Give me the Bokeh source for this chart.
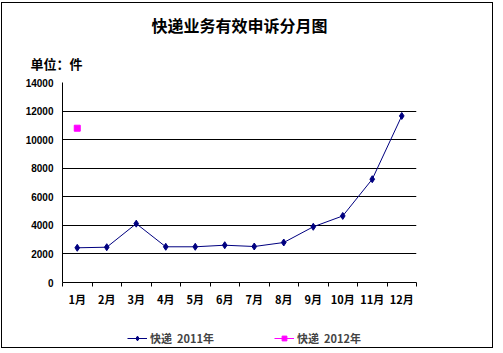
from bokeh.plotting import figure
from bokeh.layouts import column
from bokeh.models import (FixedTicker, Title, Legend, LegendItem, ColumnDataSource, Range1d)
from bokeh.embed import file_html
from bokeh.resources import INLINE

months = ["1月", "2月", "3月", "4月", "5月", "6月", "7月", "8月", "9月", "10月", "11月", "12月"]
values_2011 = [2430, 2470, 4120, 2500, 2500, 2610, 2520, 2800, 3900, 4660, 7230, 11660]
months_2012 = ["1月"]
values_2012 = [10800]
y_ticks = [0, 2000, 4000, 6000, 8000, 10000, 12000, 14000]
title_text = "快递业务有效申诉分月图"
unit_text = "单位：件"
series_names = ["快递  2011年", "快递  2012年"]
colors = ["#000080", "#FF00FF"]

pos = {m: i + 1 for i, m in enumerate(months)}
src11 = ColumnDataSource(dict(x=[pos[m] for m in months], y=values_2011))
src12 = ColumnDataSource(dict(x=[pos[m] for m in months_2012], y=values_2012))

cjk = "Noto Sans CJK SC"
num = "Liberation Sans"

p = figure(width=490, height=315, output_backend="svg", toolbar_location=None,
           x_range=Range1d(0.5, len(months) + 0.5), y_range=Range1d(y_ticks[0], y_ticks[-1]),
           min_border_left=60, min_border_right=76, min_border_top=79, min_border_bottom=36)
p.outline_line_color = None
p.background_fill_color = "white"
p.border_fill_color = "white"

# main title
p.title.text = title_text
p.title.align = "center"
p.title.text_font = cjk
p.title.text_font_style = "bold"
p.title.text_font_size = "16px"
p.title.text_color = "black"
p.title.standoff = 12

# unit label
p.add_layout(Title(text=unit_text, align="left", offset=-32, text_font=cjk,
                   text_font_style="bold", text_font_size="13px", text_color="black",
                   standoff=19), "above")

# y axis
p.yaxis.ticker = FixedTicker(ticks=y_ticks)
p.yaxis.axis_line_color = "black"
p.yaxis.major_tick_out = 0
p.yaxis.major_tick_in = 0
p.yaxis.minor_tick_line_color = None
p.yaxis.major_label_text_font = num
p.yaxis.major_label_text_font_style = "bold"
p.yaxis.major_label_text_font_size = "10px"
p.yaxis.major_label_text_color = "black"
p.yaxis.major_label_standoff = 9

# x axis
p.xaxis.ticker = FixedTicker(ticks=list(range(1, len(months) + 1)),
                             minor_ticks=[i + 0.5 for i in range(len(months) + 1)])
p.xaxis.major_label_overrides = {i + 1: m for i, m in enumerate(months)}
p.xaxis.axis_line_color = "black"
p.xaxis.major_tick_out = 0
p.xaxis.major_tick_in = 0
p.xaxis.minor_tick_out = 4
p.xaxis.minor_tick_in = 0
p.xaxis.minor_tick_line_color = "black"
p.xaxis.major_label_text_font = cjk
p.xaxis.major_label_text_font_style = "bold"
p.xaxis.major_label_text_font_size = "11px"
p.xaxis.major_label_text_color = "black"
p.xaxis.major_label_standoff = 4

p.xgrid.grid_line_color = None
p.ygrid.grid_line_color = "black"
p.ygrid.grid_line_width = 1

p.line("x", "y", source=src11, line_color=colors[0], line_width=1)
p.scatter("x", "y", source=src11, marker="diamond", size=7,
          fill_color=colors[0], line_color=colors[0])
p.scatter("x", "y", source=src12, marker="square", size=6,
          fill_color=colors[1], line_color=colors[1])

# legend strip (series drawn off-view; only the legend shows)
lp = figure(width=490, height=29, output_backend="svg", toolbar_location=None,
            x_axis_location=None, y_axis_location=None,
            x_range=Range1d(100, 101), y_range=Range1d(100, 101), min_border=0)
lp.grid.visible = False
lp.outline_line_color = None
lp.background_fill_color = "white"
lp.border_fill_color = "white"
l1 = lp.line("x", "y", source=src11, line_color=colors[0], line_width=1)
m1 = lp.scatter("x", "y", source=src11, marker="diamond", size=7,
                fill_color=colors[0], line_color=colors[0])
l2 = lp.line("x", "y", source=src12, line_color=colors[1], line_width=1)
m2 = lp.scatter("x", "y", source=src12, marker="square", size=6,
                fill_color=colors[1], line_color=colors[1])
legend = Legend(items=[LegendItem(label=series_names[0], renderers=[l1, m1]),
                       LegendItem(label=series_names[1], renderers=[l2, m2])],
                orientation="horizontal", location=(65, 1),
                label_text_font=cjk, label_text_font_style="bold",
                label_text_font_size="11px", label_standoff=3, label_height=12,
                glyph_width=20, glyph_height=12, spacing=60,
                padding=0, margin=0, border_line_color=None,
                background_fill_alpha=0)
lp.add_layout(legend, "center")

layout = column(p, lp, spacing=0,
                styles={"border": "1px solid black", "margin-left": "1px", "margin-top": "2px"})

open("out.html", "w").write(file_html(layout, INLINE))
